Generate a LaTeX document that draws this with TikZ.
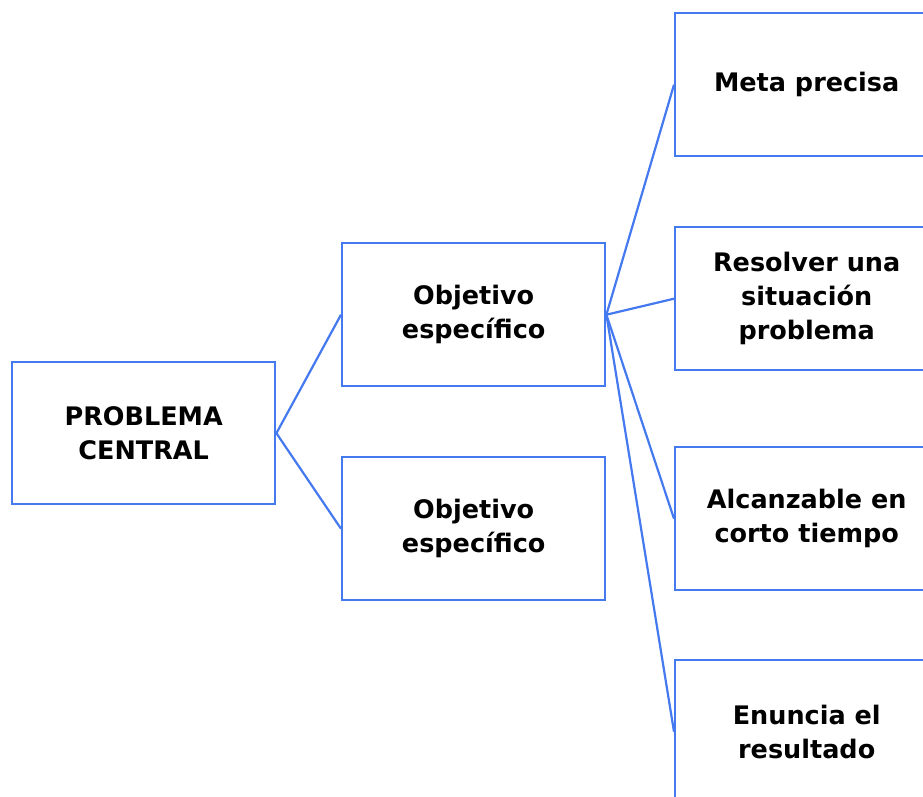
\documentclass[tikz,border=0pt]{standalone}
\usepackage{fontspec}
\setmainfont{DejaVu Sans}
\definecolor{boxblue}{HTML}{4479F0}
\begin{document}
\begin{tikzpicture}[x=1pt,y=-1pt,
  box/.style={draw=boxblue,line width=2.4pt,minimum width=263pt,minimum height=143pt,
    inner sep=0pt,align=center,font=\fontsize{25.5}{34}\selectfont\bfseries,anchor=north west},
  link/.style={draw=boxblue,line width=2.2pt}]
\useasboundingbox (0,0) rectangle (923,796);
\clip (0,0) rectangle (923,796);
\node[box,minimum height=142pt] (pc) at (11,361) {PROBLEMA\\CENTRAL};
\node[box] (o1) at (341,242) {Objetivo\\específico};
\node[box] (o2) at (341,456) {Objetivo\\específico};
\node[box] (m1) at (674,12) {Meta precisa};
\node[box] (m2) at (674,226) {Resolver una\\situación\\problema};
\node[box] (m3) at (674,446) {Alcanzable en\\corto tiempo};
\node[box] (m4) at (674,659) {Enuncia el\\resultado};
\draw[link] (pc.east) -- (o1.west);
\draw[link] (pc.east) -- (o2.west);
\draw[link] (o1.east) -- (m1.west);
\draw[link] (o1.east) -- (m2.west);
\draw[link] (o1.east) -- (m3.west);
\draw[link] (o1.east) -- (m4.west);
\end{tikzpicture}
\end{document}
